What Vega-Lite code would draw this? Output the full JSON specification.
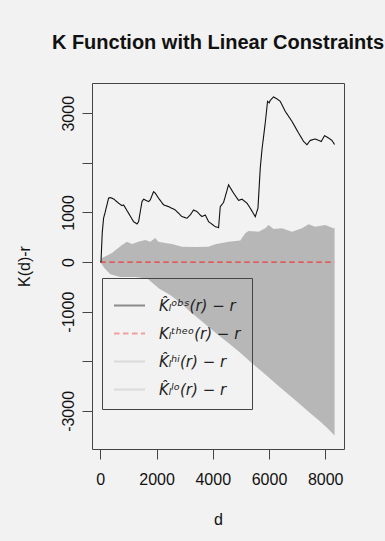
{
  "$schema": "https://vega.github.io/schema/vega-lite/v6.json",
  "autosize": "none",
  "width": 252,
  "height": 366,
  "padding": {"left": 92, "top": 83, "right": 41, "bottom": 92},
  "background": "#f2f2f2",
  "config": {
    "view": {"stroke": "#444", "strokeWidth": 1, "fill": "#f2f2f2"},
    "font": "Liberation Sans",
    "axis": {"grid": false, "domain": false, "tickColor": "#444", "tickSize": 10, "labelFont": "Liberation Sans", "labelFontSize": 16, "labelColor": "#111", "titleFont": "Liberation Sans", "titleFontSize": 16, "titleFontWeight": "normal", "titleColor": "#111"}
  },
  "title": {"text": "K Function with Linear Constraints", "font": "Liberation Sans", "fontSize": 20, "fontWeight": "bold", "color": "#111", "anchor": "middle", "frame": "group", "offset": 30},
  "data": {"values": [
    {"d": 0, "v": 0, "s": "theo"}, {"d": 8333, "v": 0, "s": "theo"},
    {"d": 0, "v": 0, "s": "obs"}, {"d": 25, "v": 6, "s": "obs"}, {"d": 70, "v": 600, "s": "obs"}, {"d": 117, "v": 884, "s": "obs"}, {"d": 178, "v": 1017, "s": "obs"}, {"d": 295, "v": 1288, "s": "obs"}, {"d": 356, "v": 1300, "s": "obs"}, {"d": 473, "v": 1274, "s": "obs"}, {"d": 651, "v": 1187, "s": "obs"}, {"d": 772, "v": 1138, "s": "obs"}, {"d": 829, "v": 1153, "s": "obs"}, {"d": 1006, "v": 985, "s": "obs"}, {"d": 1184, "v": 815, "s": "obs"}, {"d": 1305, "v": 768, "s": "obs"}, {"d": 1362, "v": 815, "s": "obs"}, {"d": 1483, "v": 1219, "s": "obs"}, {"d": 1540, "v": 1268, "s": "obs"}, {"d": 1718, "v": 1219, "s": "obs"}, {"d": 1778, "v": 1254, "s": "obs"}, {"d": 1895, "v": 1421, "s": "obs"}, {"d": 1956, "v": 1389, "s": "obs"}, {"d": 2073, "v": 1288, "s": "obs"}, {"d": 2251, "v": 1153, "s": "obs"}, {"d": 2429, "v": 1118, "s": "obs"}, {"d": 2667, "v": 1051, "s": "obs"}, {"d": 2905, "v": 916, "s": "obs"}, {"d": 3083, "v": 884, "s": "obs"}, {"d": 3200, "v": 950, "s": "obs"}, {"d": 3318, "v": 1051, "s": "obs"}, {"d": 3439, "v": 1017, "s": "obs"}, {"d": 3616, "v": 916, "s": "obs"}, {"d": 3734, "v": 950, "s": "obs"}, {"d": 3851, "v": 815, "s": "obs"}, {"d": 4089, "v": 714, "s": "obs"}, {"d": 4207, "v": 694, "s": "obs"}, {"d": 4267, "v": 1118, "s": "obs"}, {"d": 4385, "v": 1203, "s": "obs"}, {"d": 4562, "v": 1557, "s": "obs"}, {"d": 4740, "v": 1389, "s": "obs"}, {"d": 4918, "v": 1244, "s": "obs"}, {"d": 5039, "v": 1268, "s": "obs"}, {"d": 5217, "v": 1187, "s": "obs"}, {"d": 5334, "v": 1086, "s": "obs"}, {"d": 5512, "v": 916, "s": "obs"}, {"d": 5608, "v": 1086, "s": "obs"}, {"d": 5690, "v": 1901, "s": "obs"}, {"d": 5750, "v": 2265, "s": "obs"}, {"d": 5867, "v": 2804, "s": "obs"}, {"d": 5949, "v": 3241, "s": "obs"}, {"d": 6009, "v": 3209, "s": "obs"}, {"d": 6045, "v": 3262, "s": "obs"}, {"d": 6162, "v": 3330, "s": "obs"}, {"d": 6283, "v": 3290, "s": "obs"}, {"d": 6400, "v": 3241, "s": "obs"}, {"d": 6578, "v": 3039, "s": "obs"}, {"d": 6817, "v": 2837, "s": "obs"}, {"d": 7051, "v": 2602, "s": "obs"}, {"d": 7229, "v": 2433, "s": "obs"}, {"d": 7350, "v": 2366, "s": "obs"}, {"d": 7467, "v": 2453, "s": "obs"}, {"d": 7645, "v": 2481, "s": "obs"}, {"d": 7859, "v": 2432, "s": "obs"}, {"d": 7976, "v": 2548, "s": "obs"}, {"d": 8118, "v": 2501, "s": "obs"}, {"d": 8239, "v": 2453, "s": "obs"}, {"d": 8333, "v": 2370, "s": "obs"},
    {"d": 0, "v": 0, "s": "hi"}, {"d": 60, "v": 81, "s": "hi"}, {"d": 416, "v": 182, "s": "hi"}, {"d": 772, "v": 344, "s": "hi"}, {"d": 949, "v": 410, "s": "hi"}, {"d": 1127, "v": 364, "s": "hi"}, {"d": 1351, "v": 410, "s": "hi"}, {"d": 1600, "v": 445, "s": "hi"}, {"d": 1778, "v": 410, "s": "hi"}, {"d": 1956, "v": 485, "s": "hi"}, {"d": 2062, "v": 410, "s": "hi"}, {"d": 2311, "v": 384, "s": "hi"}, {"d": 2550, "v": 364, "s": "hi"}, {"d": 2905, "v": 309, "s": "hi"}, {"d": 3378, "v": 303, "s": "hi"}, {"d": 3840, "v": 309, "s": "hi"}, {"d": 4089, "v": 358, "s": "hi"}, {"d": 4562, "v": 410, "s": "hi"}, {"d": 4978, "v": 435, "s": "hi"}, {"d": 5156, "v": 580, "s": "hi"}, {"d": 5273, "v": 627, "s": "hi"}, {"d": 5629, "v": 613, "s": "hi"}, {"d": 5867, "v": 681, "s": "hi"}, {"d": 5985, "v": 748, "s": "hi"}, {"d": 6162, "v": 667, "s": "hi"}, {"d": 6461, "v": 681, "s": "hi"}, {"d": 6817, "v": 613, "s": "hi"}, {"d": 7172, "v": 681, "s": "hi"}, {"d": 7407, "v": 762, "s": "hi"}, {"d": 7645, "v": 714, "s": "hi"}, {"d": 8000, "v": 748, "s": "hi"}, {"d": 8296, "v": 681, "s": "hi"}, {"d": 8333, "v": 687, "s": "hi"},
    {"d": 0, "v": 0, "s": "lo"}, {"d": 142, "v": -121, "s": "lo"}, {"d": 356, "v": -243, "s": "lo"}, {"d": 711, "v": -300, "s": "lo"}, {"d": 1245, "v": -300, "s": "lo"}, {"d": 1671, "v": -330, "s": "lo"}, {"d": 2100, "v": -540, "s": "lo"}, {"d": 2500, "v": -670, "s": "lo"}, {"d": 2845, "v": -820, "s": "lo"}, {"d": 3200, "v": -1000, "s": "lo"}, {"d": 3556, "v": -1170, "s": "lo"}, {"d": 4000, "v": -1380, "s": "lo"}, {"d": 4623, "v": -1660, "s": "lo"}, {"d": 5000, "v": -1840, "s": "lo"}, {"d": 5334, "v": -2010, "s": "lo"}, {"d": 5800, "v": -2230, "s": "lo"}, {"d": 6400, "v": -2528, "s": "lo"}, {"d": 6800, "v": -2720, "s": "lo"}, {"d": 7112, "v": -2871, "s": "lo"}, {"d": 7500, "v": -3060, "s": "lo"}, {"d": 7823, "v": -3215, "s": "lo"}, {"d": 8100, "v": -3360, "s": "lo"}, {"d": 8333, "v": -3498, "s": "lo"}
  ]},
  "encoding": {
    "x": {"field": "d", "type": "quantitative", "scale": {"domain": [-295, 8668], "nice": false, "zero": false},
      "axis": {"title": "d", "values": [0, 2000, 4000, 6000, 8000], "labelExpr": "datum.value + ''", "labelPadding": 12, "titlePadding": 24, "labelFlush": false}},
    "y": {"field": "v", "type": "quantitative", "scale": {"domain": [-3768, 3610], "nice": false, "zero": false},
      "axis": {"title": "K(d)-r", "values": [-3000, -2000, -1000, 0, 1000, 2000, 3000], "labelExpr": "datum.value == 2000 || datum.value == -2000 ? '' : datum.value + ''", "labelAngle": 270, "labelAlign": "center", "labelBaseline": "bottom", "labelPadding": 6, "titlePadding": 28, "labelFlush": false}}
  },
  "layer": [
    {"transform": [{"filter": "datum.s == 'hi'"}], "mark": {"type": "area", "color": "#b7b7b7", "opacity": 1}, "encoding": {"y2": {"datum": 0}}},
    {"transform": [{"filter": "datum.s == 'lo'"}], "mark": {"type": "area", "color": "#b7b7b7", "opacity": 1}, "encoding": {"y2": {"datum": 0}}},
    {"transform": [{"filter": "datum.s == 'obs' || datum.s == 'theo'"}], "mark": {"type": "line", "strokeWidth": 1.1},
      "encoding": {
        "color": {"field": "s", "type": "nominal", "scale": {"domain": ["obs", "theo", "hi", "lo"], "range": ["#111111", "#f03c3c", "#bebebe", "#bebebe"]},
          "legend": {"title": null, "orient": "none", "legendX": 10, "legendY": 195, "symbolType": "stroke", "symbolSize": 961, "symbolStrokeWidth": 2, "symbolOpacity": 0.45, "rowPadding": 3, "padding": 11, "labelOffset": 13, "labelFont": "DejaVu Sans", "labelFontStyle": "italic", "labelFontSize": 15, "labelColor": "#222", "strokeColor": "#444", "labelLimit": 200,
            "labelExpr": "datum.value == 'obs' ? 'K̂ₗᵒᵇˢ(r) − r' : datum.value == 'theo' ? 'Kₗᵗʰᵉᵒ(r) − r' : datum.value == 'hi' ? 'K̂ₗʰⁱ(r) − r' : 'K̂ₗˡᵒ(r) − r'"}},
        "strokeDash": {"field": "s", "type": "nominal", "scale": {"domain": ["obs", "theo", "hi", "lo"], "range": [[1, 0], [5.5, 3.5], [1, 0], [1, 0]]},
          "legend": {"title": null, "orient": "none", "legendX": 10, "legendY": 195}}
      }}
  ]
}
